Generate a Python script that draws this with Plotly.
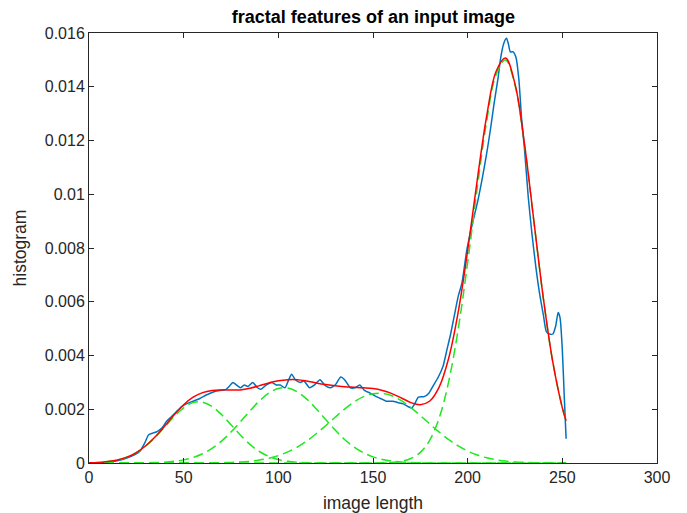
import plotly.graph_objects as go

# ---- data ----
x_grid = [0, 5, 10, 15, 20, 25, 30, 35, 40, 45, 50, 55, 60, 65, 70, 75, 80, 85, 90, 95,
          100, 105, 110, 115, 120, 125, 130, 135, 140, 145, 150, 155, 160, 165, 170, 175,
          180, 185, 190, 195, 200, 205, 210, 215, 220, 225, 230, 235, 240, 245, 250, 252]

comp1 = [0.00001, 0.000023, 0.000053, 0.000111, 0.000216, 0.000385, 0.000634, 0.000961,
         0.001343, 0.00173, 0.002054, 0.002247, 0.002265, 0.002104, 0.001803, 0.001422,
         0.001035, 0.000693, 0.000428, 0.000244, 0.000128, 0.000062, 0.000028, 0.000011,
         0, 0, 0, 0, 0, 0, 0, 0, 0, 0, 0, 0, 0, 0, 0, 0, 0, 0, 0, 0, 0, 0, 0, 0, 0, 0, 0, 0]

comp2 = [0, 0, 0, 0, 0.000001, 0.000003, 0.000007, 0.000015, 0.000031, 0.000062, 0.000116,
         0.000205, 0.000344, 0.000545, 0.000815, 0.001151, 0.001537, 0.00194, 0.00231,
         0.002604, 0.002772, 0.002787, 0.002649, 0.002378, 0.002017, 0.001617, 0.001225,
         0.000876, 0.000593, 0.000379, 0.000229, 0.00013, 0.00007, 0.000036, 0.000017,
         0.000008, 0, 0, 0, 0, 0, 0, 0, 0, 0, 0, 0, 0, 0, 0, 0, 0]

comp3 = [0, 0, 0, 0, 0, 0, 0, 0, 0, 0, 0, 0, 0.000003, 0.000005, 0.000011, 0.00002,
         0.000037, 0.000064, 0.000109, 0.000176, 0.000275, 0.000412, 0.000592, 0.000819,
         0.001088, 0.001388, 0.001703, 0.002006, 0.002272, 0.00247, 0.002581, 0.002592,
         0.0025, 0.002317, 0.002063, 0.001766, 0.001451, 0.001146, 0.00087, 0.000634,
         0.000444, 0.000299, 0.000193, 0.00012, 0.000072, 0.000041, 0.000023, 0.000012,
         0.000006, 0.000003, 0.000001, 0.000001]

comp4 = [0, 0, 0, 0, 0, 0, 0, 0, 0, 0, 0, 0, 0, 0, 0, 0, 0, 0, 0, 0, 0, 0, 0, 0, 0, 0,
         0, 0, 0, 0, 0.000002, 0.000007, 0.000023, 0.000064, 0.000167, 0.000395, 0.000855,
         0.001686, 0.003035, 0.00498, 0.007463, 0.0102, 0.0127, 0.01445, 0.015, 0.01406,
         0.01185, 0.008978, 0.00611, 0.003737, 0.002052, 0.00157]

fit_total = [0.00001, 0.000023, 0.000053, 0.000111, 0.000217, 0.000388, 0.000641, 0.000976,
             0.001374, 0.001792, 0.00217, 0.00245, 0.00262, 0.0027, 0.00272, 0.00272,
             0.00272, 0.00278, 0.00288, 0.00298, 0.00306, 0.0031, 0.0031, 0.00305,
             0.00298, 0.00292, 0.00287, 0.00284, 0.00282, 0.0028, 0.00277, 0.0027,
             0.00258, 0.00242, 0.002247, 0.002169, 0.002306, 0.002832, 0.003905, 0.005614,
             0.007907, 0.010499, 0.012893, 0.01457, 0.015072, 0.014101, 0.011873, 0.00899,
             0.006116, 0.00374, 0.002053, 0.001571]

hist_x = [0, 4, 8, 12, 16, 20, 24, 27, 29.5, 31.5, 34, 36, 38.5, 41, 43.5, 46, 49, 52, 55,
          58.5, 62, 66, 69, 72, 74, 76, 78, 80, 82, 84, 86.5, 89, 91, 93.5, 96.5, 99, 101,
          103.5, 105.5, 107, 109, 111.5, 113.5, 116.5, 119, 122, 124.5, 127.5, 130, 133,
          135, 138, 140.5, 143, 145.5, 148.5, 151, 154, 157, 160.5, 163, 166, 168.5, 170.5,
          172, 174, 177, 179.5, 182, 184.5, 187, 189, 191, 193, 195, 197, 199.5, 201.5,
          203.5, 205.5, 208, 210, 212, 214, 216, 217.5, 219, 220.5, 221.5, 222.5, 224,
          225.5, 227, 228.5, 230, 232, 234, 236, 238, 240, 241.5, 243, 245, 246.5, 247.8,
          248.8, 250, 251, 252]
hist_y = [0.0, 0.00001, 0.00002, 0.00005, 0.0001, 0.00018, 0.0003, 0.00045, 0.00075,
          0.00105, 0.00112, 0.00117, 0.0013, 0.00155, 0.00172, 0.0019, 0.0021, 0.00222,
          0.0023, 0.0024, 0.00253, 0.00265, 0.0027, 0.00272, 0.00285, 0.003, 0.0029, 0.0028,
          0.0029, 0.00285, 0.003, 0.0028, 0.00275, 0.0029, 0.003, 0.0029, 0.0029, 0.0028,
          0.0031, 0.0033, 0.0031, 0.003, 0.00305, 0.0028, 0.0029, 0.0031, 0.0029, 0.0028,
          0.0029, 0.0032, 0.0031, 0.0028, 0.0028, 0.0029, 0.0027, 0.0026, 0.0025, 0.0024,
          0.0023, 0.0023, 0.00225, 0.0022, 0.0021, 0.00205, 0.0022, 0.00245, 0.00247, 0.0026,
          0.0029, 0.0032, 0.0036, 0.0042, 0.0048, 0.0055, 0.0062, 0.0067, 0.0079, 0.0086,
          0.0092, 0.0098, 0.0107, 0.0115, 0.0124, 0.0134, 0.0143, 0.0151, 0.0156, 0.0158,
          0.0156, 0.0153, 0.0153, 0.0151, 0.0143, 0.0128, 0.0117, 0.0099, 0.0085, 0.0073,
          0.0063, 0.0055, 0.0049, 0.0048, 0.0048, 0.0051, 0.0056, 0.0054, 0.0042, 0.0025,
          0.0009]

x_ticks = [0, 50, 100, 150, 200, 250, 300]
y_ticks = [0, 0.002, 0.004, 0.006, 0.008, 0.01, 0.012, 0.014, 0.016]
y_tick_text = ["0", "0.002", "0.004", "0.006", "0.008", "0.01", "0.012", "0.014", "0.016"]

title_text = "fractal features of an input image"
x_label = "image length"
y_label = "histogram"

# ---- figure ----
FONT = "Liberation Sans, Arial, Helvetica, sans-serif"
AXC = "#262626"
GREEN = "#1EE81E"

fig = go.Figure()
fig.add_trace(go.Scatter(x=hist_x, y=hist_y, mode="lines",
                         line=dict(color="#0072BD", width=1.5, shape="spline", smoothing=0.6),
                         showlegend=False))
for comp in (comp1, comp2, comp3, comp4):
    fig.add_trace(go.Scatter(x=x_grid, y=comp, mode="lines",
                             line=dict(color=GREEN, width=1.5, dash="10px,5px", shape="spline"),
                             showlegend=False))
fig.add_trace(go.Scatter(x=x_grid, y=fit_total, mode="lines",
                         line=dict(color="#FF0000", width=1.5, shape="spline"),
                         showlegend=False))

fig.update_layout(
    width=687, height=513,
    margin=dict(l=89, r=30, t=33, b=50, autoexpand=False),
    paper_bgcolor="white", plot_bgcolor="white",
    font=dict(family=FONT, size=16, color=AXC),
    title=dict(text="<b>" + title_text + "</b>", x=0.5435, xanchor="center",
               y=1 - 17 / 513, yanchor="middle",
               font=dict(family=FONT, size=18, color="#000000")),
)
fig.update_xaxes(range=[0, 300], tickvals=x_ticks, ticks="inside", ticklen=5,
                 tickcolor=AXC, showline=True, linecolor=AXC, linewidth=1, mirror="ticks",
                 showgrid=False, zeroline=False, tickfont=dict(size=16, color=AXC),
                 automargin=False,
                 title=dict(text=x_label, font=dict(size=17.5, color=AXC), standoff=11))
fig.update_yaxes(range=[0, 0.016], tickvals=y_ticks, ticktext=y_tick_text, ticks="inside",
                 ticklen=5, tickcolor=AXC, showline=True, linecolor=AXC, linewidth=1,
                 mirror="ticks", showgrid=False, zeroline=False,
                 tickfont=dict(size=16, color=AXC), automargin=False,
                 title=dict(text=y_label, font=dict(size=17.5, color=AXC), standoff=13))

fig.write_html("out.html")
